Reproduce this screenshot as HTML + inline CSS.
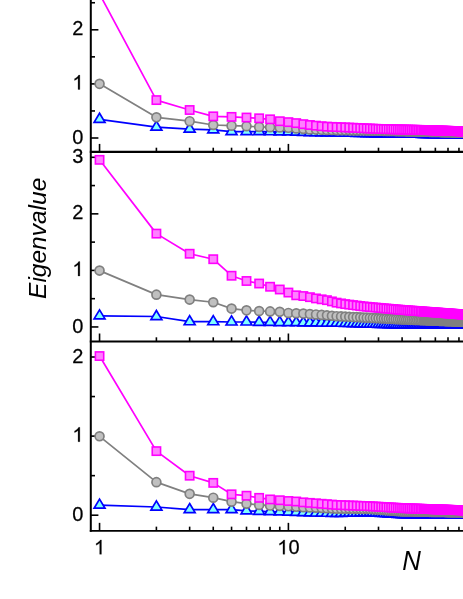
<!DOCTYPE html>
<html><head><meta charset="utf-8"><title>Eigenvalue vs N</title>
<style>
html,body{margin:0;padding:0;background:#fff;}
body{width:463px;height:599px;overflow:hidden;font-family:"Liberation Sans",sans-serif;}
svg{display:block;will-change:transform;}
</style></head><body>
<svg width="463" height="599" viewBox="0 0 463 599">
<rect width="463" height="599" fill="#fff"/>
<g stroke="#000" stroke-width="2.0" fill="none" stroke-linecap="butt">
<line x1="90.8" y1="-5" x2="90.8" y2="531.85"/>
<line x1="89.8" y1="151.9" x2="468" y2="151.9" stroke-width="2.2"/>
<line x1="89.8" y1="341.5" x2="468" y2="341.5" stroke-width="2.2"/>
<line x1="89.8" y1="530.85" x2="468" y2="530.85" stroke-width="1.9"/>
</g>
<g stroke="#000" stroke-width="1.6" fill="none">
<line x1="90.8" y1="138.00" x2="98.39999999999999" y2="138.00"/>
<line x1="90.8" y1="83.90" x2="98.39999999999999" y2="83.90"/>
<line x1="90.8" y1="29.80" x2="98.39999999999999" y2="29.80"/>
<line x1="90.8" y1="-24.30" x2="98.39999999999999" y2="-24.30"/>
<line x1="90.8" y1="110.95" x2="95.0" y2="110.95"/>
<line x1="90.8" y1="56.85" x2="95.0" y2="56.85"/>
<line x1="90.8" y1="2.75" x2="95.0" y2="2.75"/>
<line x1="99.55" y1="151.9" x2="99.55" y2="143.90"/>
<line x1="156.40" y1="151.9" x2="156.40" y2="147.70"/>
<line x1="189.65" y1="151.9" x2="189.65" y2="147.70"/>
<line x1="213.25" y1="151.9" x2="213.25" y2="147.70"/>
<line x1="231.55" y1="151.9" x2="231.55" y2="147.70"/>
<line x1="246.50" y1="151.9" x2="246.50" y2="147.70"/>
<line x1="259.15" y1="151.9" x2="259.15" y2="147.70"/>
<line x1="270.10" y1="151.9" x2="270.10" y2="147.70"/>
<line x1="279.76" y1="151.9" x2="279.76" y2="147.70"/>
<line x1="288.40" y1="151.9" x2="288.40" y2="143.90"/>
<line x1="345.25" y1="151.9" x2="345.25" y2="147.70"/>
<line x1="378.50" y1="151.9" x2="378.50" y2="147.70"/>
<line x1="402.10" y1="151.9" x2="402.10" y2="147.70"/>
<line x1="420.40" y1="151.9" x2="420.40" y2="147.70"/>
<line x1="435.35" y1="151.9" x2="435.35" y2="147.70"/>
<line x1="448.00" y1="151.9" x2="448.00" y2="147.70"/>
<line x1="458.95" y1="151.9" x2="458.95" y2="147.70"/>
<line x1="90.8" y1="326.95" x2="98.39999999999999" y2="326.95"/>
<line x1="90.8" y1="270.40" x2="98.39999999999999" y2="270.40"/>
<line x1="90.8" y1="213.85" x2="98.39999999999999" y2="213.85"/>
<line x1="90.8" y1="157.30" x2="98.39999999999999" y2="157.30"/>
<line x1="90.8" y1="298.68" x2="95.0" y2="298.68"/>
<line x1="90.8" y1="242.12" x2="95.0" y2="242.12"/>
<line x1="90.8" y1="185.57" x2="95.0" y2="185.57"/>
<line x1="99.55" y1="341.5" x2="99.55" y2="333.50"/>
<line x1="156.40" y1="341.5" x2="156.40" y2="337.30"/>
<line x1="189.65" y1="341.5" x2="189.65" y2="337.30"/>
<line x1="213.25" y1="341.5" x2="213.25" y2="337.30"/>
<line x1="231.55" y1="341.5" x2="231.55" y2="337.30"/>
<line x1="246.50" y1="341.5" x2="246.50" y2="337.30"/>
<line x1="259.15" y1="341.5" x2="259.15" y2="337.30"/>
<line x1="270.10" y1="341.5" x2="270.10" y2="337.30"/>
<line x1="279.76" y1="341.5" x2="279.76" y2="337.30"/>
<line x1="288.40" y1="341.5" x2="288.40" y2="333.50"/>
<line x1="345.25" y1="341.5" x2="345.25" y2="337.30"/>
<line x1="378.50" y1="341.5" x2="378.50" y2="337.30"/>
<line x1="402.10" y1="341.5" x2="402.10" y2="337.30"/>
<line x1="420.40" y1="341.5" x2="420.40" y2="337.30"/>
<line x1="435.35" y1="341.5" x2="435.35" y2="337.30"/>
<line x1="448.00" y1="341.5" x2="448.00" y2="337.30"/>
<line x1="458.95" y1="341.5" x2="458.95" y2="337.30"/>
<line x1="90.8" y1="515.20" x2="98.39999999999999" y2="515.20"/>
<line x1="90.8" y1="436.10" x2="98.39999999999999" y2="436.10"/>
<line x1="90.8" y1="357.00" x2="98.39999999999999" y2="357.00"/>
<line x1="90.8" y1="475.65" x2="95.0" y2="475.65"/>
<line x1="90.8" y1="396.55" x2="95.0" y2="396.55"/>
<line x1="99.55" y1="530.85" x2="99.55" y2="522.85"/>
<line x1="156.40" y1="530.85" x2="156.40" y2="526.65"/>
<line x1="189.65" y1="530.85" x2="189.65" y2="526.65"/>
<line x1="213.25" y1="530.85" x2="213.25" y2="526.65"/>
<line x1="231.55" y1="530.85" x2="231.55" y2="526.65"/>
<line x1="246.50" y1="530.85" x2="246.50" y2="526.65"/>
<line x1="259.15" y1="530.85" x2="259.15" y2="526.65"/>
<line x1="270.10" y1="530.85" x2="270.10" y2="526.65"/>
<line x1="279.76" y1="530.85" x2="279.76" y2="526.65"/>
<line x1="288.40" y1="530.85" x2="288.40" y2="522.85"/>
<line x1="345.25" y1="530.85" x2="345.25" y2="526.65"/>
<line x1="378.50" y1="530.85" x2="378.50" y2="526.65"/>
<line x1="402.10" y1="530.85" x2="402.10" y2="526.65"/>
<line x1="420.40" y1="530.85" x2="420.40" y2="526.65"/>
<line x1="435.35" y1="530.85" x2="435.35" y2="526.65"/>
<line x1="448.00" y1="530.85" x2="448.00" y2="526.65"/>
<line x1="458.95" y1="530.85" x2="458.95" y2="526.65"/>
</g>
<polyline fill="none" stroke="#0000ff" stroke-width="1.7" stroke-linejoin="round" points="99.55,119.32 156.40,127.17 189.65,129.07 213.25,129.82 231.55,131.56 246.50,131.61 259.15,131.61 270.10,131.71 279.76,131.80 288.40,131.88 296.22,132.16 303.35,132.41 309.92,132.64 316.00,132.70 321.65,132.77 326.95,132.82 331.92,132.88 336.61,132.93 341.04,132.97 345.25,133.02 349.25,133.12 353.07,133.21 356.71,133.30 360.20,133.38 363.55,133.47 366.77,133.54 369.86,133.62 372.85,133.69 375.72,133.76 378.50,133.83 381.19,133.86 383.80,133.88 386.32,133.91 388.77,133.93 391.15,133.95 393.46,133.97 395.70,134.00 397.89,134.02 400.02,134.04 402.10,134.06 404.12,134.08 406.10,134.10 408.03,134.11 409.92,134.13 411.76,134.15 413.56,134.17 415.33,134.18 417.05,134.20 418.74,134.22 420.40,134.23 422.02,134.25 423.62,134.26 425.18,134.30 426.71,134.33 428.22,134.36 429.70,134.39 431.15,134.42 432.57,134.45 433.98,134.48 435.35,134.51 436.71,134.53 438.04,134.56 439.36,134.59 440.65,134.62 441.92,134.64 443.17,134.67 444.40,134.69 445.62,134.72 446.82,134.74 448.00,134.77 449.16,134.79 450.31,134.81 451.44,134.84 452.55,134.86 453.66,134.88 454.74,134.91 455.81,134.93 456.87,134.95 457.92,134.97 458.95,134.99 459.97,135.01 460.97,135.04 461.97,135.06 462.95,135.08 463.92,135.09 464.88,135.10 465.83,135.11 466.77,135.12 467.69,135.13 468.61,135.14 469.51,135.15 470.41,135.16"/>
<g fill="#80ffff" stroke="#0000ff" stroke-width="1.7"><path d="M99.55,113.25L105.00,122.35L94.10,122.35Z"/><path d="M156.40,121.10L161.85,130.20L150.95,130.20Z"/><path d="M189.65,123.00L195.10,132.10L184.20,132.10Z"/><path d="M213.25,123.76L218.70,132.86L207.80,132.86Z"/><path d="M231.55,125.49L237.00,134.59L226.10,134.59Z"/><path d="M246.50,125.54L251.95,134.64L241.05,134.64Z"/><path d="M259.15,125.54L264.60,134.64L253.70,134.64Z"/><path d="M270.10,125.64L275.55,134.74L264.65,134.74Z"/><path d="M279.76,125.73L285.21,134.83L274.31,134.83Z"/><path d="M288.40,125.81L293.85,134.91L282.95,134.91Z"/><path d="M296.22,126.09L301.67,135.19L290.77,135.19Z"/><path d="M303.35,126.34L308.80,135.44L297.90,135.44Z"/><path d="M309.92,126.57L315.37,135.67L304.47,135.67Z"/><path d="M316.00,126.64L321.45,135.74L310.55,135.74Z"/><path d="M321.65,126.70L327.10,135.80L316.20,135.80Z"/><path d="M326.95,126.76L332.40,135.86L321.50,135.86Z"/><path d="M331.92,126.81L337.37,135.91L326.47,135.91Z"/><path d="M336.61,126.86L342.06,135.96L331.16,135.96Z"/><path d="M341.04,126.91L346.49,136.01L335.59,136.01Z"/><path d="M345.25,126.95L350.70,136.05L339.80,136.05Z"/><path d="M349.25,127.05L354.70,136.15L343.80,136.15Z"/><path d="M353.07,127.14L358.52,136.24L347.62,136.24Z"/><path d="M356.71,127.23L362.16,136.33L351.26,136.33Z"/><path d="M360.20,127.32L365.65,136.42L354.75,136.42Z"/><path d="M363.55,127.40L369.00,136.50L358.10,136.50Z"/><path d="M366.77,127.48L372.22,136.58L361.32,136.58Z"/><path d="M369.86,127.55L375.31,136.65L364.41,136.65Z"/><path d="M372.85,127.63L378.30,136.73L367.40,136.73Z"/><path d="M375.72,127.70L381.17,136.80L370.27,136.80Z"/><path d="M378.50,127.76L383.95,136.86L373.05,136.86Z"/><path d="M381.19,127.79L386.64,136.89L375.74,136.89Z"/><path d="M383.80,127.81L389.25,136.91L378.35,136.91Z"/><path d="M386.32,127.84L391.77,136.94L380.87,136.94Z"/><path d="M388.77,127.86L394.22,136.96L383.32,136.96Z"/><path d="M391.15,127.89L396.60,136.99L385.70,136.99Z"/><path d="M393.46,127.91L398.91,137.01L388.01,137.01Z"/><path d="M395.70,127.93L401.15,137.03L390.25,137.03Z"/><path d="M397.89,127.95L403.34,137.05L392.44,137.05Z"/><path d="M400.02,127.97L405.47,137.07L394.57,137.07Z"/><path d="M402.10,127.99L407.55,137.09L396.65,137.09Z"/><path d="M404.12,128.01L409.57,137.11L398.67,137.11Z"/><path d="M406.10,128.03L411.55,137.13L400.65,137.13Z"/><path d="M408.03,128.05L413.48,137.15L402.58,137.15Z"/><path d="M409.92,128.07L415.37,137.17L404.47,137.17Z"/><path d="M411.76,128.08L417.21,137.18L406.31,137.18Z"/><path d="M413.56,128.10L419.01,137.20L408.11,137.20Z"/><path d="M415.33,128.12L420.78,137.22L409.88,137.22Z"/><path d="M417.05,128.13L422.50,137.23L411.60,137.23Z"/><path d="M418.74,128.15L424.19,137.25L413.29,137.25Z"/><path d="M420.40,128.17L425.85,137.27L414.95,137.27Z"/><path d="M422.02,128.18L427.47,137.28L416.57,137.28Z"/><path d="M423.62,128.20L429.07,137.30L418.17,137.30Z" fill="#0000ff"/><path d="M425.18,128.23L430.63,137.33L419.73,137.33Z" fill="#0000ff"/><path d="M426.71,128.26L432.16,137.36L421.26,137.36Z" fill="#0000ff"/><path d="M428.22,128.29L433.67,137.39L422.77,137.39Z" fill="#0000ff"/><path d="M429.70,128.32L435.15,137.42L424.25,137.42Z" fill="#0000ff"/><path d="M431.15,128.35L436.60,137.45L425.70,137.45Z" fill="#0000ff"/><path d="M432.57,128.38L438.02,137.48L427.12,137.48Z" fill="#0000ff"/><path d="M433.98,128.41L439.43,137.51L428.53,137.51Z" fill="#0000ff"/><path d="M435.35,128.44L440.80,137.54L429.90,137.54Z" fill="#0000ff"/><path d="M436.71,128.47L442.16,137.57L431.26,137.57Z" fill="#0000ff"/><path d="M438.04,128.49L443.49,137.59L432.59,137.59Z" fill="#0000ff"/><path d="M439.36,128.52L444.81,137.62L433.91,137.62Z" fill="#0000ff"/><path d="M440.65,128.55L446.10,137.65L435.20,137.65Z" fill="#0000ff"/><path d="M441.92,128.57L447.37,137.67L436.47,137.67Z" fill="#0000ff"/><path d="M443.17,128.60L448.62,137.70L437.72,137.70Z" fill="#0000ff"/><path d="M444.40,128.63L449.85,137.73L438.95,137.73Z" fill="#0000ff"/><path d="M445.62,128.65L451.07,137.75L440.17,137.75Z" fill="#0000ff"/><path d="M446.82,128.68L452.27,137.78L441.37,137.78Z" fill="#0000ff"/><path d="M448.00,128.70L453.45,137.80L442.55,137.80Z" fill="#0000ff"/><path d="M449.16,128.72L454.61,137.82L443.71,137.82Z" fill="#0000ff"/><path d="M450.31,128.75L455.76,137.85L444.86,137.85Z" fill="#0000ff"/><path d="M451.44,128.77L456.89,137.87L445.99,137.87Z" fill="#0000ff"/><path d="M452.55,128.79L458.00,137.89L447.10,137.89Z" fill="#0000ff"/><path d="M453.66,128.82L459.11,137.92L448.21,137.92Z" fill="#0000ff"/><path d="M454.74,128.84L460.19,137.94L449.29,137.94Z" fill="#0000ff"/><path d="M455.81,128.86L461.26,137.96L450.36,137.96Z" fill="#0000ff"/><path d="M456.87,128.88L462.32,137.98L451.42,137.98Z" fill="#0000ff"/><path d="M457.92,128.91L463.37,138.01L452.47,138.01Z" fill="#0000ff"/><path d="M458.95,128.93L464.40,138.03L453.50,138.03Z" fill="#0000ff"/><path d="M459.97,128.95L465.42,138.05L454.52,138.05Z" fill="#0000ff"/><path d="M460.97,128.97L466.42,138.07L455.52,138.07Z" fill="#0000ff"/><path d="M461.97,128.99L467.42,138.09L456.52,138.09Z" fill="#0000ff"/><path d="M462.95,129.01L468.40,138.11L457.50,138.11Z" fill="#0000ff"/><path d="M463.92,129.02L469.37,138.12L458.47,138.12Z" fill="#0000ff"/><path d="M464.88,129.03L470.33,138.13L459.43,138.13Z" fill="#0000ff"/><path d="M465.83,129.04L471.28,138.14L460.38,138.14Z" fill="#0000ff"/><path d="M466.77,129.05L472.22,138.15L461.32,138.15Z" fill="#0000ff"/><path d="M467.69,129.06L473.14,138.16L462.24,138.16Z" fill="#0000ff"/><path d="M468.61,129.07L474.06,138.17L463.16,138.17Z" fill="#0000ff"/><path d="M469.51,129.08L474.96,138.18L464.06,138.18Z" fill="#0000ff"/><path d="M470.41,129.09L475.86,138.19L464.96,138.19Z" fill="#0000ff"/></g>
<polyline fill="none" stroke="#808080" stroke-width="1.7" stroke-linejoin="round" points="99.55,83.85 156.40,117.31 189.65,121.21 213.25,125.00 231.55,125.65 246.50,126.14 259.15,126.95 270.10,127.17 279.76,127.44 288.40,127.82 296.22,128.39 303.35,128.90 309.92,129.39 316.00,129.60 321.65,129.80 326.95,129.99 331.92,130.07 336.61,130.15 341.04,130.23 345.25,130.30 349.25,130.36 353.07,130.41 356.71,130.46 360.20,130.51 363.55,130.55 366.77,130.59 369.86,130.63 372.85,130.67 375.72,130.71 378.50,130.74 381.19,130.80 383.80,130.86 386.32,130.91 388.77,130.97 391.15,131.02 393.46,131.07 395.70,131.12 397.89,131.16 400.02,131.21 402.10,131.25 404.12,131.30 406.10,131.34 408.03,131.38 409.92,131.42 411.76,131.46 413.56,131.50 415.33,131.54 417.05,131.58 418.74,131.61 420.40,131.65 422.02,131.68 423.62,131.72 425.18,131.75 426.71,131.79 428.22,131.82 429.70,131.85 431.15,131.88 432.57,131.92 433.98,131.95 435.35,131.98 436.71,132.01 438.04,132.04 439.36,132.07 440.65,132.09 441.92,132.12 443.17,132.15 444.40,132.18 445.62,132.20 446.82,132.23 448.00,132.26 449.16,132.28 450.31,132.31 451.44,132.33 452.55,132.36 453.66,132.38 454.74,132.40 455.81,132.43 456.87,132.45 457.92,132.47 458.95,132.50 459.97,132.52 460.97,132.54 461.97,132.56 462.95,132.59 463.92,132.60 464.88,132.61 465.83,132.63 466.77,132.64 467.69,132.66 468.61,132.67 469.51,132.68 470.41,132.70"/>
<g fill="#c0c0c0" stroke="#808080" stroke-width="1.7"><circle cx="99.55" cy="83.85" r="4.45"/><circle cx="156.40" cy="117.31" r="4.45"/><circle cx="189.65" cy="121.21" r="4.45"/><circle cx="213.25" cy="125.00" r="4.45"/><circle cx="231.55" cy="125.65" r="4.45"/><circle cx="246.50" cy="126.14" r="4.45"/><circle cx="259.15" cy="126.95" r="4.45"/><circle cx="270.10" cy="127.17" r="4.45"/><circle cx="279.76" cy="127.44" r="4.45"/><circle cx="288.40" cy="127.82" r="4.45"/><circle cx="296.22" cy="128.39" r="4.45"/><circle cx="303.35" cy="128.90" r="4.45"/><circle cx="309.92" cy="129.39" r="4.45"/><circle cx="316.00" cy="129.60" r="4.45"/><circle cx="321.65" cy="129.80" r="4.45"/><circle cx="326.95" cy="129.99" r="4.45"/><circle cx="331.92" cy="130.07" r="4.45"/><circle cx="336.61" cy="130.15" r="4.45"/><circle cx="341.04" cy="130.23" r="4.45"/><circle cx="345.25" cy="130.30" r="4.45"/><circle cx="349.25" cy="130.36" r="4.45"/><circle cx="353.07" cy="130.41" r="4.45"/><circle cx="356.71" cy="130.46" r="4.45"/><circle cx="360.20" cy="130.51" r="4.45"/><circle cx="363.55" cy="130.55" r="4.45"/><circle cx="366.77" cy="130.59" r="4.45"/><circle cx="369.86" cy="130.63" r="4.45"/><circle cx="372.85" cy="130.67" r="4.45"/><circle cx="375.72" cy="130.71" r="4.45"/><circle cx="378.50" cy="130.74" r="4.45"/><circle cx="381.19" cy="130.80" r="4.45"/><circle cx="383.80" cy="130.86" r="4.45"/><circle cx="386.32" cy="130.91" r="4.45"/><circle cx="388.77" cy="130.97" r="4.45"/><circle cx="391.15" cy="131.02" r="4.45"/><circle cx="393.46" cy="131.07" r="4.45"/><circle cx="395.70" cy="131.12" r="4.45"/><circle cx="397.89" cy="131.16" r="4.45"/><circle cx="400.02" cy="131.21" r="4.45"/><circle cx="402.10" cy="131.25" r="4.45"/><circle cx="404.12" cy="131.30" r="4.45"/><circle cx="406.10" cy="131.34" r="4.45"/><circle cx="408.03" cy="131.38" r="4.45"/><circle cx="409.92" cy="131.42" r="4.45"/><circle cx="411.76" cy="131.46" r="4.45"/><circle cx="413.56" cy="131.50" r="4.45"/><circle cx="415.33" cy="131.54" r="4.45"/><circle cx="417.05" cy="131.58" r="4.45"/><circle cx="418.74" cy="131.61" r="4.45"/><circle cx="420.40" cy="131.65" r="4.45"/><circle cx="422.02" cy="131.68" r="4.45"/><circle cx="423.62" cy="131.72" r="4.45" fill="#808080"/><circle cx="425.18" cy="131.75" r="4.45" fill="#808080"/><circle cx="426.71" cy="131.79" r="4.45" fill="#808080"/><circle cx="428.22" cy="131.82" r="4.45" fill="#808080"/><circle cx="429.70" cy="131.85" r="4.45" fill="#808080"/><circle cx="431.15" cy="131.88" r="4.45" fill="#808080"/><circle cx="432.57" cy="131.92" r="4.45" fill="#808080"/><circle cx="433.98" cy="131.95" r="4.45" fill="#808080"/><circle cx="435.35" cy="131.98" r="4.45" fill="#808080"/><circle cx="436.71" cy="132.01" r="4.45" fill="#808080"/><circle cx="438.04" cy="132.04" r="4.45" fill="#808080"/><circle cx="439.36" cy="132.07" r="4.45" fill="#808080"/><circle cx="440.65" cy="132.09" r="4.45" fill="#808080"/><circle cx="441.92" cy="132.12" r="4.45" fill="#808080"/><circle cx="443.17" cy="132.15" r="4.45" fill="#808080"/><circle cx="444.40" cy="132.18" r="4.45" fill="#808080"/><circle cx="445.62" cy="132.20" r="4.45" fill="#808080"/><circle cx="446.82" cy="132.23" r="4.45" fill="#808080"/><circle cx="448.00" cy="132.26" r="4.45" fill="#808080"/><circle cx="449.16" cy="132.28" r="4.45" fill="#808080"/><circle cx="450.31" cy="132.31" r="4.45" fill="#808080"/><circle cx="451.44" cy="132.33" r="4.45" fill="#808080"/><circle cx="452.55" cy="132.36" r="4.45" fill="#808080"/><circle cx="453.66" cy="132.38" r="4.45" fill="#808080"/><circle cx="454.74" cy="132.40" r="4.45" fill="#808080"/><circle cx="455.81" cy="132.43" r="4.45" fill="#808080"/><circle cx="456.87" cy="132.45" r="4.45" fill="#808080"/><circle cx="457.92" cy="132.47" r="4.45" fill="#808080"/><circle cx="458.95" cy="132.50" r="4.45" fill="#808080"/><circle cx="459.97" cy="132.52" r="4.45" fill="#808080"/><circle cx="460.97" cy="132.54" r="4.45" fill="#808080"/><circle cx="461.97" cy="132.56" r="4.45" fill="#808080"/><circle cx="462.95" cy="132.59" r="4.45" fill="#808080"/><circle cx="463.92" cy="132.60" r="4.45" fill="#808080"/><circle cx="464.88" cy="132.61" r="4.45" fill="#808080"/><circle cx="465.83" cy="132.63" r="4.45" fill="#808080"/><circle cx="466.77" cy="132.64" r="4.45" fill="#808080"/><circle cx="467.69" cy="132.66" r="4.45" fill="#808080"/><circle cx="468.61" cy="132.67" r="4.45" fill="#808080"/><circle cx="469.51" cy="132.68" r="4.45" fill="#808080"/><circle cx="470.41" cy="132.70" r="4.45" fill="#808080"/></g>
<polyline fill="none" stroke="#ff00ff" stroke-width="1.7" stroke-linejoin="round" points="99.55,-6.04 156.40,100.09 189.65,110.00 213.25,116.34 231.55,116.88 246.50,117.53 259.15,118.29 270.10,119.32 279.76,121.21 288.40,122.13 296.22,123.11 303.35,124.14 309.92,125.00 316.00,125.65 321.65,126.20 326.95,126.63 331.92,126.85 336.61,127.06 341.04,127.23 345.25,127.39 349.25,127.57 353.07,127.74 356.71,127.91 360.20,128.07 363.55,128.22 366.77,128.37 369.86,128.51 372.85,128.64 375.72,128.78 378.50,128.90 381.19,128.97 383.80,129.04 386.32,129.10 388.77,129.16 391.15,129.22 393.46,129.28 395.70,129.34 397.89,129.39 400.02,129.45 402.10,129.50 404.12,129.54 406.10,129.59 408.03,129.63 409.92,129.68 411.76,129.72 413.56,129.76 415.33,129.80 417.05,129.84 418.74,129.88 420.40,129.91 422.02,129.95 423.62,129.99 425.18,130.04 426.71,130.09 428.22,130.14 429.70,130.19 431.15,130.24 432.57,130.29 433.98,130.34 435.35,130.39 436.71,130.44 438.04,130.48 439.36,130.53 440.65,130.57 441.92,130.62 443.17,130.66 444.40,130.70 445.62,130.74 446.82,130.78 448.00,130.82 449.16,130.86 450.31,130.90 451.44,130.94 452.55,130.98 453.66,131.02 454.74,131.06 455.81,131.09 456.87,131.13 457.92,131.17 458.95,131.20 459.97,131.24 460.97,131.27 461.97,131.31 462.95,131.34 463.92,131.37 464.88,131.40 465.83,131.43 466.77,131.46 467.69,131.48 468.61,131.51 469.51,131.54 470.41,131.57"/>
<g fill="#ff80ff" stroke="#ff00ff" stroke-width="1.6"><rect x="95.40" y="-10.19" width="8.3" height="8.30"/><rect x="152.25" y="95.94" width="8.3" height="8.30"/><rect x="185.50" y="105.85" width="8.3" height="8.30"/><rect x="209.10" y="112.19" width="8.3" height="8.30"/><rect x="227.40" y="112.73" width="8.3" height="8.30"/><rect x="242.35" y="113.38" width="8.3" height="8.30"/><rect x="255.00" y="114.14" width="8.3" height="8.30"/><rect x="265.95" y="115.17" width="8.3" height="8.30"/><rect x="275.61" y="117.06" width="8.3" height="8.30"/><rect x="284.25" y="117.98" width="8.3" height="8.30"/><rect x="292.07" y="118.96" width="8.3" height="8.30"/><rect x="299.20" y="119.99" width="8.3" height="8.30"/><rect x="305.77" y="120.85" width="8.3" height="8.30"/><rect x="311.85" y="121.50" width="8.3" height="8.30"/><rect x="317.50" y="122.05" width="8.3" height="8.30"/><rect x="322.80" y="122.48" width="8.3" height="8.30"/><rect x="327.77" y="122.70" width="8.3" height="8.30"/><rect x="332.46" y="122.91" width="8.3" height="8.30"/><rect x="336.89" y="123.08" width="8.3" height="8.30"/><rect x="341.10" y="123.24" width="8.3" height="8.30"/><rect x="345.10" y="123.42" width="8.3" height="8.30"/><rect x="348.92" y="123.59" width="8.3" height="8.30"/><rect x="352.56" y="123.76" width="8.3" height="8.30"/><rect x="356.05" y="123.92" width="8.3" height="8.30"/><rect x="359.40" y="124.07" width="8.3" height="8.30"/><rect x="362.62" y="124.22" width="8.3" height="8.30"/><rect x="365.71" y="124.36" width="8.3" height="8.30"/><rect x="368.70" y="124.49" width="8.3" height="8.30"/><rect x="371.57" y="124.63" width="8.3" height="8.30"/><rect x="374.35" y="124.75" width="8.3" height="8.30"/><rect x="377.04" y="124.82" width="8.3" height="8.30"/><rect x="379.65" y="124.89" width="8.3" height="8.30"/><rect x="382.17" y="124.95" width="8.3" height="8.30"/><rect x="384.62" y="125.01" width="8.3" height="8.30"/><rect x="387.00" y="125.07" width="8.3" height="8.30"/><rect x="389.31" y="125.13" width="8.3" height="8.30"/><rect x="391.55" y="125.19" width="8.3" height="8.30"/><rect x="393.74" y="125.24" width="8.3" height="8.30"/><rect x="395.87" y="125.30" width="8.3" height="8.30"/><rect x="397.95" y="125.35" width="8.3" height="8.30"/><rect x="399.97" y="125.39" width="8.3" height="8.30"/><rect x="401.95" y="125.44" width="8.3" height="8.30"/><rect x="403.88" y="125.48" width="8.3" height="8.30"/><rect x="405.77" y="125.53" width="8.3" height="8.30"/><rect x="407.61" y="125.57" width="8.3" height="8.30"/><rect x="409.41" y="125.61" width="8.3" height="8.30"/><rect x="411.18" y="125.65" width="8.3" height="8.30"/><rect x="412.90" y="125.69" width="8.3" height="8.30"/><rect x="414.59" y="125.73" width="8.3" height="8.30"/><rect x="416.25" y="125.76" width="8.3" height="8.30"/><rect x="417.87" y="125.80" width="8.3" height="8.30"/><rect x="419.47" y="125.84" width="8.3" height="8.30" fill="#ff00ff"/><rect x="421.03" y="125.89" width="8.3" height="8.30" fill="#ff00ff"/><rect x="422.56" y="125.94" width="8.3" height="8.30" fill="#ff00ff"/><rect x="424.07" y="125.99" width="8.3" height="8.30" fill="#ff00ff"/><rect x="425.55" y="126.04" width="8.3" height="8.30" fill="#ff00ff"/><rect x="427.00" y="126.09" width="8.3" height="8.30" fill="#ff00ff"/><rect x="428.42" y="126.14" width="8.3" height="8.30" fill="#ff00ff"/><rect x="429.83" y="126.19" width="8.3" height="8.30" fill="#ff00ff"/><rect x="431.20" y="126.24" width="8.3" height="8.30" fill="#ff00ff"/><rect x="432.56" y="126.29" width="8.3" height="8.30" fill="#ff00ff"/><rect x="433.89" y="126.33" width="8.3" height="8.30" fill="#ff00ff"/><rect x="435.21" y="126.38" width="8.3" height="8.30" fill="#ff00ff"/><rect x="436.50" y="126.42" width="8.3" height="8.30" fill="#ff00ff"/><rect x="437.77" y="126.47" width="8.3" height="8.30" fill="#ff00ff"/><rect x="439.02" y="126.51" width="8.3" height="8.30" fill="#ff00ff"/><rect x="440.25" y="126.55" width="8.3" height="8.30" fill="#ff00ff"/><rect x="441.47" y="126.59" width="8.3" height="8.30" fill="#ff00ff"/><rect x="442.67" y="126.63" width="8.3" height="8.30" fill="#ff00ff"/><rect x="443.85" y="126.67" width="8.3" height="8.30" fill="#ff00ff"/><rect x="445.01" y="126.71" width="8.3" height="8.30" fill="#ff00ff"/><rect x="446.16" y="126.75" width="8.3" height="8.30" fill="#ff00ff"/><rect x="447.29" y="126.79" width="8.3" height="8.30" fill="#ff00ff"/><rect x="448.40" y="126.83" width="8.3" height="8.30" fill="#ff00ff"/><rect x="449.51" y="126.87" width="8.3" height="8.30" fill="#ff00ff"/><rect x="450.59" y="126.91" width="8.3" height="8.30" fill="#ff00ff"/><rect x="451.66" y="126.94" width="8.3" height="8.30" fill="#ff00ff"/><rect x="452.72" y="126.98" width="8.3" height="8.30" fill="#ff00ff"/><rect x="453.77" y="127.02" width="8.3" height="8.30" fill="#ff00ff"/><rect x="454.80" y="127.05" width="8.3" height="8.30" fill="#ff00ff"/><rect x="455.82" y="127.09" width="8.3" height="8.30" fill="#ff00ff"/><rect x="456.82" y="127.12" width="8.3" height="8.30" fill="#ff00ff"/><rect x="457.82" y="127.16" width="8.3" height="8.30" fill="#ff00ff"/><rect x="458.80" y="127.19" width="8.3" height="8.30" fill="#ff00ff"/><rect x="459.77" y="127.22" width="8.3" height="8.30" fill="#ff00ff"/><rect x="460.73" y="127.25" width="8.3" height="8.30" fill="#ff00ff"/><rect x="461.68" y="127.28" width="8.3" height="8.30" fill="#ff00ff"/><rect x="462.62" y="127.31" width="8.3" height="8.30" fill="#ff00ff"/><rect x="463.54" y="127.33" width="8.3" height="8.30" fill="#ff00ff"/><rect x="464.46" y="127.36" width="8.3" height="8.30" fill="#ff00ff"/><rect x="465.36" y="127.39" width="8.3" height="8.30" fill="#ff00ff"/><rect x="466.26" y="127.42" width="8.3" height="8.30" fill="#ff00ff"/></g>
<polyline fill="none" stroke="#0000ff" stroke-width="1.7" stroke-linejoin="round" points="99.55,315.90 156.40,316.52 189.65,321.71 213.25,321.71 231.55,321.99 246.50,321.99 259.15,322.27 270.10,322.39 279.76,322.50 288.40,322.59 296.22,322.67 303.35,322.75 309.92,322.82 316.00,322.89 321.65,322.95 326.95,323.01 331.92,323.06 336.61,323.12 341.04,323.24 345.25,323.35 349.25,323.46 353.07,323.57 356.71,323.67 360.20,323.77 363.55,323.86 366.77,323.95 369.86,324.03 372.85,324.11 375.72,324.19 378.50,324.27 381.19,324.34 383.80,324.42 386.32,324.49 388.77,324.55 391.15,324.62 393.46,324.68 395.70,324.74 397.89,324.80 400.02,324.86 402.10,324.92 404.12,324.93 406.10,324.93 408.03,324.94 409.92,324.94 411.76,324.95 413.56,324.95 415.33,324.96 417.05,324.96 418.74,324.97 420.40,324.97 422.02,324.98 423.62,324.98 425.18,324.98 426.71,324.99 428.22,324.99 429.70,325.00 431.15,325.00 432.57,325.01 433.98,325.01 435.35,325.01 436.71,325.02 438.04,325.02 439.36,325.02 440.65,325.03 441.92,325.03 443.17,325.04 444.40,325.04 445.62,325.04 446.82,325.05 448.00,325.05 449.16,325.05 450.31,325.05 451.44,325.06 452.55,325.06 453.66,325.06 454.74,325.07 455.81,325.07 456.87,325.07 457.92,325.08 458.95,325.08 459.97,325.08 460.97,325.08 461.97,325.09 462.95,325.09 463.92,325.09 464.88,325.10 465.83,325.10 466.77,325.11 467.69,325.11 468.61,325.11 469.51,325.12 470.41,325.12"/>
<g fill="#80ffff" stroke="#0000ff" stroke-width="1.7"><path d="M99.55,309.83L105.00,318.93L94.10,318.93Z"/><path d="M156.40,310.45L161.85,319.55L150.95,319.55Z"/><path d="M189.65,315.64L195.10,324.74L184.20,324.74Z"/><path d="M213.25,315.64L218.70,324.74L207.80,324.74Z"/><path d="M231.55,315.92L237.00,325.02L226.10,325.02Z"/><path d="M246.50,315.92L251.95,325.02L241.05,325.02Z"/><path d="M259.15,316.20L264.60,325.30L253.70,325.30Z"/><path d="M270.10,316.32L275.55,325.42L264.65,325.42Z"/><path d="M279.76,316.43L285.21,325.53L274.31,325.53Z"/><path d="M288.40,316.52L293.85,325.62L282.95,325.62Z"/><path d="M296.22,316.61L301.67,325.71L290.77,325.71Z"/><path d="M303.35,316.69L308.80,325.79L297.90,325.79Z"/><path d="M309.92,316.76L315.37,325.86L304.47,325.86Z"/><path d="M316.00,316.82L321.45,325.92L310.55,325.92Z"/><path d="M321.65,316.89L327.10,325.99L316.20,325.99Z"/><path d="M326.95,316.94L332.40,326.04L321.50,326.04Z"/><path d="M331.92,317.00L337.37,326.10L326.47,326.10Z"/><path d="M336.61,317.05L342.06,326.15L331.16,326.15Z"/><path d="M341.04,317.17L346.49,326.27L335.59,326.27Z"/><path d="M345.25,317.29L350.70,326.39L339.80,326.39Z"/><path d="M349.25,317.40L354.70,326.50L343.80,326.50Z"/><path d="M353.07,317.50L358.52,326.60L347.62,326.60Z"/><path d="M356.71,317.60L362.16,326.70L351.26,326.70Z"/><path d="M360.20,317.70L365.65,326.80L354.75,326.80Z"/><path d="M363.55,317.79L369.00,326.89L358.10,326.89Z"/><path d="M366.77,317.88L372.22,326.98L361.32,326.98Z"/><path d="M369.86,317.97L375.31,327.07L364.41,327.07Z"/><path d="M372.85,318.05L378.30,327.15L367.40,327.15Z"/><path d="M375.72,318.13L381.17,327.23L370.27,327.23Z"/><path d="M378.50,318.20L383.95,327.30L373.05,327.30Z"/><path d="M381.19,318.28L386.64,327.38L375.74,327.38Z"/><path d="M383.80,318.35L389.25,327.45L378.35,327.45Z"/><path d="M386.32,318.42L391.77,327.52L380.87,327.52Z"/><path d="M388.77,318.49L394.22,327.59L383.32,327.59Z"/><path d="M391.15,318.55L396.60,327.65L385.70,327.65Z"/><path d="M393.46,318.62L398.91,327.72L388.01,327.72Z"/><path d="M395.70,318.68L401.15,327.78L390.25,327.78Z"/><path d="M397.89,318.74L403.34,327.84L392.44,327.84Z"/><path d="M400.02,318.80L405.47,327.90L394.57,327.90Z"/><path d="M402.10,318.85L407.55,327.95L396.65,327.95Z"/><path d="M404.12,318.86L409.57,327.96L398.67,327.96Z"/><path d="M406.10,318.87L411.55,327.97L400.65,327.97Z"/><path d="M408.03,318.87L413.48,327.97L402.58,327.97Z"/><path d="M409.92,318.88L415.37,327.98L404.47,327.98Z"/><path d="M411.76,318.88L417.21,327.98L406.31,327.98Z"/><path d="M413.56,318.89L419.01,327.99L408.11,327.99Z"/><path d="M415.33,318.89L420.78,327.99L409.88,327.99Z"/><path d="M417.05,318.90L422.50,328.00L411.60,328.00Z"/><path d="M418.74,318.90L424.19,328.00L413.29,328.00Z"/><path d="M420.40,318.91L425.85,328.01L414.95,328.01Z"/><path d="M422.02,318.91L427.47,328.01L416.57,328.01Z"/><path d="M423.62,318.91L429.07,328.01L418.17,328.01Z" fill="#0000ff"/><path d="M425.18,318.92L430.63,328.02L419.73,328.02Z" fill="#0000ff"/><path d="M426.71,318.92L432.16,328.02L421.26,328.02Z" fill="#0000ff"/><path d="M428.22,318.93L433.67,328.03L422.77,328.03Z" fill="#0000ff"/><path d="M429.70,318.93L435.15,328.03L424.25,328.03Z" fill="#0000ff"/><path d="M431.15,318.93L436.60,328.03L425.70,328.03Z" fill="#0000ff"/><path d="M432.57,318.94L438.02,328.04L427.12,328.04Z" fill="#0000ff"/><path d="M433.98,318.94L439.43,328.04L428.53,328.04Z" fill="#0000ff"/><path d="M435.35,318.95L440.80,328.05L429.90,328.05Z" fill="#0000ff"/><path d="M436.71,318.95L442.16,328.05L431.26,328.05Z" fill="#0000ff"/><path d="M438.04,318.95L443.49,328.05L432.59,328.05Z" fill="#0000ff"/><path d="M439.36,318.96L444.81,328.06L433.91,328.06Z" fill="#0000ff"/><path d="M440.65,318.96L446.10,328.06L435.20,328.06Z" fill="#0000ff"/><path d="M441.92,318.96L447.37,328.06L436.47,328.06Z" fill="#0000ff"/><path d="M443.17,318.97L448.62,328.07L437.72,328.07Z" fill="#0000ff"/><path d="M444.40,318.97L449.85,328.07L438.95,328.07Z" fill="#0000ff"/><path d="M445.62,318.98L451.07,328.08L440.17,328.08Z" fill="#0000ff"/><path d="M446.82,318.98L452.27,328.08L441.37,328.08Z" fill="#0000ff"/><path d="M448.00,318.98L453.45,328.08L442.55,328.08Z" fill="#0000ff"/><path d="M449.16,318.98L454.61,328.08L443.71,328.08Z" fill="#0000ff"/><path d="M450.31,318.99L455.76,328.09L444.86,328.09Z" fill="#0000ff"/><path d="M451.44,318.99L456.89,328.09L445.99,328.09Z" fill="#0000ff"/><path d="M452.55,318.99L458.00,328.09L447.10,328.09Z" fill="#0000ff"/><path d="M453.66,319.00L459.11,328.10L448.21,328.10Z" fill="#0000ff"/><path d="M454.74,319.00L460.19,328.10L449.29,328.10Z" fill="#0000ff"/><path d="M455.81,319.00L461.26,328.10L450.36,328.10Z" fill="#0000ff"/><path d="M456.87,319.01L462.32,328.11L451.42,328.11Z" fill="#0000ff"/><path d="M457.92,319.01L463.37,328.11L452.47,328.11Z" fill="#0000ff"/><path d="M458.95,319.01L464.40,328.11L453.50,328.11Z" fill="#0000ff"/><path d="M459.97,319.02L465.42,328.12L454.52,328.12Z" fill="#0000ff"/><path d="M460.97,319.02L466.42,328.12L455.52,328.12Z" fill="#0000ff"/><path d="M461.97,319.02L467.42,328.12L456.52,328.12Z" fill="#0000ff"/><path d="M462.95,319.02L468.40,328.12L457.50,328.12Z" fill="#0000ff"/><path d="M463.92,319.03L469.37,328.13L458.47,328.13Z" fill="#0000ff"/><path d="M464.88,319.03L470.33,328.13L459.43,328.13Z" fill="#0000ff"/><path d="M465.83,319.03L471.28,328.13L460.38,328.13Z" fill="#0000ff"/><path d="M466.77,319.04L472.22,328.14L461.32,328.14Z" fill="#0000ff"/><path d="M467.69,319.04L473.14,328.14L462.24,328.14Z" fill="#0000ff"/><path d="M468.61,319.05L474.06,328.15L463.16,328.15Z" fill="#0000ff"/><path d="M469.51,319.05L474.96,328.15L464.06,328.15Z" fill="#0000ff"/><path d="M470.41,319.05L475.86,328.15L464.96,328.15Z" fill="#0000ff"/></g>
<polyline fill="none" stroke="#808080" stroke-width="1.7" stroke-linejoin="round" points="99.55,270.61 156.40,294.63 189.65,299.60 213.25,302.25 231.55,308.62 246.50,310.37 259.15,310.99 270.10,311.38 279.76,311.84 288.40,312.96 296.22,313.26 303.35,313.53 309.92,314.01 316.00,314.46 321.65,314.88 326.95,315.34 331.92,315.77 336.61,316.18 341.04,316.40 345.25,316.60 349.25,316.80 353.07,316.99 356.71,317.17 360.20,317.34 363.55,317.50 366.77,317.66 369.86,317.81 372.85,317.96 375.72,318.10 378.50,318.24 381.19,318.37 383.80,318.50 386.32,318.62 388.77,318.74 391.15,318.86 393.46,318.97 395.70,319.08 397.89,319.19 400.02,319.29 402.10,319.39 404.12,319.47 406.10,319.55 408.03,319.62 409.92,319.70 411.76,319.77 413.56,319.84 415.33,319.91 417.05,319.98 418.74,320.04 420.40,320.11 422.02,320.17 423.62,320.23 425.18,320.29 426.71,320.35 428.22,320.41 429.70,320.47 431.15,320.52 432.57,320.58 433.98,320.63 435.35,320.69 436.71,320.74 438.04,320.79 439.36,320.84 440.65,320.89 441.92,320.94 443.17,320.99 444.40,321.04 445.62,321.09 446.82,321.13 448.00,321.18 449.16,321.23 450.31,321.27 451.44,321.31 452.55,321.36 453.66,321.40 454.74,321.44 455.81,321.48 456.87,321.53 457.92,321.57 458.95,321.61 459.97,321.65 460.97,321.69 461.97,321.72 462.95,321.76 463.92,321.79 464.88,321.82 465.83,321.84 466.77,321.87 467.69,321.89 468.61,321.92 469.51,321.94 470.41,321.97"/>
<g fill="#c0c0c0" stroke="#808080" stroke-width="1.7"><circle cx="99.55" cy="270.61" r="4.45"/><circle cx="156.40" cy="294.63" r="4.45"/><circle cx="189.65" cy="299.60" r="4.45"/><circle cx="213.25" cy="302.25" r="4.45"/><circle cx="231.55" cy="308.62" r="4.45"/><circle cx="246.50" cy="310.37" r="4.45"/><circle cx="259.15" cy="310.99" r="4.45"/><circle cx="270.10" cy="311.38" r="4.45"/><circle cx="279.76" cy="311.84" r="4.45"/><circle cx="288.40" cy="312.96" r="4.45"/><circle cx="296.22" cy="313.26" r="4.45"/><circle cx="303.35" cy="313.53" r="4.45"/><circle cx="309.92" cy="314.01" r="4.45"/><circle cx="316.00" cy="314.46" r="4.45"/><circle cx="321.65" cy="314.88" r="4.45"/><circle cx="326.95" cy="315.34" r="4.45"/><circle cx="331.92" cy="315.77" r="4.45"/><circle cx="336.61" cy="316.18" r="4.45"/><circle cx="341.04" cy="316.40" r="4.45"/><circle cx="345.25" cy="316.60" r="4.45"/><circle cx="349.25" cy="316.80" r="4.45"/><circle cx="353.07" cy="316.99" r="4.45"/><circle cx="356.71" cy="317.17" r="4.45"/><circle cx="360.20" cy="317.34" r="4.45"/><circle cx="363.55" cy="317.50" r="4.45"/><circle cx="366.77" cy="317.66" r="4.45"/><circle cx="369.86" cy="317.81" r="4.45"/><circle cx="372.85" cy="317.96" r="4.45"/><circle cx="375.72" cy="318.10" r="4.45"/><circle cx="378.50" cy="318.24" r="4.45"/><circle cx="381.19" cy="318.37" r="4.45"/><circle cx="383.80" cy="318.50" r="4.45"/><circle cx="386.32" cy="318.62" r="4.45"/><circle cx="388.77" cy="318.74" r="4.45"/><circle cx="391.15" cy="318.86" r="4.45"/><circle cx="393.46" cy="318.97" r="4.45"/><circle cx="395.70" cy="319.08" r="4.45"/><circle cx="397.89" cy="319.19" r="4.45"/><circle cx="400.02" cy="319.29" r="4.45"/><circle cx="402.10" cy="319.39" r="4.45"/><circle cx="404.12" cy="319.47" r="4.45"/><circle cx="406.10" cy="319.55" r="4.45"/><circle cx="408.03" cy="319.62" r="4.45"/><circle cx="409.92" cy="319.70" r="4.45"/><circle cx="411.76" cy="319.77" r="4.45"/><circle cx="413.56" cy="319.84" r="4.45"/><circle cx="415.33" cy="319.91" r="4.45"/><circle cx="417.05" cy="319.98" r="4.45"/><circle cx="418.74" cy="320.04" r="4.45"/><circle cx="420.40" cy="320.11" r="4.45"/><circle cx="422.02" cy="320.17" r="4.45"/><circle cx="423.62" cy="320.23" r="4.45" fill="#808080"/><circle cx="425.18" cy="320.29" r="4.45" fill="#808080"/><circle cx="426.71" cy="320.35" r="4.45" fill="#808080"/><circle cx="428.22" cy="320.41" r="4.45" fill="#808080"/><circle cx="429.70" cy="320.47" r="4.45" fill="#808080"/><circle cx="431.15" cy="320.52" r="4.45" fill="#808080"/><circle cx="432.57" cy="320.58" r="4.45" fill="#808080"/><circle cx="433.98" cy="320.63" r="4.45" fill="#808080"/><circle cx="435.35" cy="320.69" r="4.45" fill="#808080"/><circle cx="436.71" cy="320.74" r="4.45" fill="#808080"/><circle cx="438.04" cy="320.79" r="4.45" fill="#808080"/><circle cx="439.36" cy="320.84" r="4.45" fill="#808080"/><circle cx="440.65" cy="320.89" r="4.45" fill="#808080"/><circle cx="441.92" cy="320.94" r="4.45" fill="#808080"/><circle cx="443.17" cy="320.99" r="4.45" fill="#808080"/><circle cx="444.40" cy="321.04" r="4.45" fill="#808080"/><circle cx="445.62" cy="321.09" r="4.45" fill="#808080"/><circle cx="446.82" cy="321.13" r="4.45" fill="#808080"/><circle cx="448.00" cy="321.18" r="4.45" fill="#808080"/><circle cx="449.16" cy="321.23" r="4.45" fill="#808080"/><circle cx="450.31" cy="321.27" r="4.45" fill="#808080"/><circle cx="451.44" cy="321.31" r="4.45" fill="#808080"/><circle cx="452.55" cy="321.36" r="4.45" fill="#808080"/><circle cx="453.66" cy="321.40" r="4.45" fill="#808080"/><circle cx="454.74" cy="321.44" r="4.45" fill="#808080"/><circle cx="455.81" cy="321.48" r="4.45" fill="#808080"/><circle cx="456.87" cy="321.53" r="4.45" fill="#808080"/><circle cx="457.92" cy="321.57" r="4.45" fill="#808080"/><circle cx="458.95" cy="321.61" r="4.45" fill="#808080"/><circle cx="459.97" cy="321.65" r="4.45" fill="#808080"/><circle cx="460.97" cy="321.69" r="4.45" fill="#808080"/><circle cx="461.97" cy="321.72" r="4.45" fill="#808080"/><circle cx="462.95" cy="321.76" r="4.45" fill="#808080"/><circle cx="463.92" cy="321.79" r="4.45" fill="#808080"/><circle cx="464.88" cy="321.82" r="4.45" fill="#808080"/><circle cx="465.83" cy="321.84" r="4.45" fill="#808080"/><circle cx="466.77" cy="321.87" r="4.45" fill="#808080"/><circle cx="467.69" cy="321.89" r="4.45" fill="#808080"/><circle cx="468.61" cy="321.92" r="4.45" fill="#808080"/><circle cx="469.51" cy="321.94" r="4.45" fill="#808080"/><circle cx="470.41" cy="321.97" r="4.45" fill="#808080"/></g>
<polyline fill="none" stroke="#ff00ff" stroke-width="1.7" stroke-linejoin="round" points="99.55,159.84 156.40,233.61 189.65,253.74 213.25,259.21 231.55,275.74 246.50,280.99 259.15,283.52 270.10,286.74 279.76,289.50 288.40,292.55 296.22,295.31 303.35,296.04 309.92,297.17 316.00,298.41 321.65,299.32 326.95,300.16 331.92,301.40 336.61,302.64 341.04,303.40 345.25,304.11 349.25,304.61 353.07,305.10 356.71,305.56 360.20,306.00 363.55,306.42 366.77,306.72 369.86,307.02 372.85,307.30 375.72,307.57 378.50,307.83 381.19,308.07 383.80,308.30 386.32,308.52 388.77,308.74 391.15,308.95 393.46,309.15 395.70,309.35 397.89,309.55 400.02,309.73 402.10,309.92 404.12,310.07 406.10,310.22 408.03,310.36 409.92,310.51 411.76,310.64 413.56,310.78 415.33,310.91 417.05,311.04 418.74,311.17 420.40,311.29 422.02,311.41 423.62,311.53 425.18,311.65 426.71,311.77 428.22,311.88 429.70,311.99 431.15,312.10 432.57,312.21 433.98,312.31 435.35,312.42 436.71,312.52 438.04,312.62 439.36,312.72 440.65,312.81 441.92,312.91 443.17,313.00 444.40,313.09 445.62,313.19 446.82,313.28 448.00,313.36 449.16,313.45 450.31,313.54 451.44,313.62 452.55,313.71 453.66,313.79 454.74,313.87 455.81,313.95 456.87,314.03 457.92,314.11 458.95,314.19 459.97,314.26 460.97,314.34 461.97,314.41 462.95,314.49 463.92,314.56 464.88,314.62 465.83,314.69 466.77,314.76 467.69,314.82 468.61,314.89 469.51,314.95 470.41,315.02"/>
<g fill="#ff80ff" stroke="#ff00ff" stroke-width="1.6"><rect x="95.40" y="155.69" width="8.3" height="8.30"/><rect x="152.25" y="229.46" width="8.3" height="8.30"/><rect x="185.50" y="249.59" width="8.3" height="8.30"/><rect x="209.10" y="255.06" width="8.3" height="8.30"/><rect x="227.40" y="271.59" width="8.3" height="8.30"/><rect x="242.35" y="276.84" width="8.3" height="8.30"/><rect x="255.00" y="279.37" width="8.3" height="8.30"/><rect x="265.95" y="282.59" width="8.3" height="8.30"/><rect x="275.61" y="285.35" width="8.3" height="8.30"/><rect x="284.25" y="288.40" width="8.3" height="8.30"/><rect x="292.07" y="291.16" width="8.3" height="8.30"/><rect x="299.20" y="291.89" width="8.3" height="8.30"/><rect x="305.77" y="293.02" width="8.3" height="8.30"/><rect x="311.85" y="294.26" width="8.3" height="8.30"/><rect x="317.50" y="295.17" width="8.3" height="8.30"/><rect x="322.80" y="296.01" width="8.3" height="8.30"/><rect x="327.77" y="297.25" width="8.3" height="8.30"/><rect x="332.46" y="298.49" width="8.3" height="8.30"/><rect x="336.89" y="299.25" width="8.3" height="8.30"/><rect x="341.10" y="299.96" width="8.3" height="8.30"/><rect x="345.10" y="300.46" width="8.3" height="8.30"/><rect x="348.92" y="300.95" width="8.3" height="8.30"/><rect x="352.56" y="301.41" width="8.3" height="8.30"/><rect x="356.05" y="301.85" width="8.3" height="8.30"/><rect x="359.40" y="302.27" width="8.3" height="8.30"/><rect x="362.62" y="302.57" width="8.3" height="8.30"/><rect x="365.71" y="302.87" width="8.3" height="8.30"/><rect x="368.70" y="303.15" width="8.3" height="8.30"/><rect x="371.57" y="303.42" width="8.3" height="8.30"/><rect x="374.35" y="303.68" width="8.3" height="8.30"/><rect x="377.04" y="303.92" width="8.3" height="8.30"/><rect x="379.65" y="304.15" width="8.3" height="8.30"/><rect x="382.17" y="304.37" width="8.3" height="8.30"/><rect x="384.62" y="304.59" width="8.3" height="8.30"/><rect x="387.00" y="304.80" width="8.3" height="8.30"/><rect x="389.31" y="305.00" width="8.3" height="8.30"/><rect x="391.55" y="305.20" width="8.3" height="8.30"/><rect x="393.74" y="305.40" width="8.3" height="8.30"/><rect x="395.87" y="305.58" width="8.3" height="8.30"/><rect x="397.95" y="305.77" width="8.3" height="8.30"/><rect x="399.97" y="305.92" width="8.3" height="8.30"/><rect x="401.95" y="306.07" width="8.3" height="8.30"/><rect x="403.88" y="306.21" width="8.3" height="8.30"/><rect x="405.77" y="306.36" width="8.3" height="8.30"/><rect x="407.61" y="306.49" width="8.3" height="8.30"/><rect x="409.41" y="306.63" width="8.3" height="8.30"/><rect x="411.18" y="306.76" width="8.3" height="8.30"/><rect x="412.90" y="306.89" width="8.3" height="8.30"/><rect x="414.59" y="307.02" width="8.3" height="8.30"/><rect x="416.25" y="307.14" width="8.3" height="8.30"/><rect x="417.87" y="307.26" width="8.3" height="8.30"/><rect x="419.47" y="307.38" width="8.3" height="8.30" fill="#ff00ff"/><rect x="421.03" y="307.50" width="8.3" height="8.30" fill="#ff00ff"/><rect x="422.56" y="307.62" width="8.3" height="8.30" fill="#ff00ff"/><rect x="424.07" y="307.73" width="8.3" height="8.30" fill="#ff00ff"/><rect x="425.55" y="307.84" width="8.3" height="8.30" fill="#ff00ff"/><rect x="427.00" y="307.95" width="8.3" height="8.30" fill="#ff00ff"/><rect x="428.42" y="308.06" width="8.3" height="8.30" fill="#ff00ff"/><rect x="429.83" y="308.16" width="8.3" height="8.30" fill="#ff00ff"/><rect x="431.20" y="308.27" width="8.3" height="8.30" fill="#ff00ff"/><rect x="432.56" y="308.37" width="8.3" height="8.30" fill="#ff00ff"/><rect x="433.89" y="308.47" width="8.3" height="8.30" fill="#ff00ff"/><rect x="435.21" y="308.57" width="8.3" height="8.30" fill="#ff00ff"/><rect x="436.50" y="308.66" width="8.3" height="8.30" fill="#ff00ff"/><rect x="437.77" y="308.76" width="8.3" height="8.30" fill="#ff00ff"/><rect x="439.02" y="308.85" width="8.3" height="8.30" fill="#ff00ff"/><rect x="440.25" y="308.94" width="8.3" height="8.30" fill="#ff00ff"/><rect x="441.47" y="309.04" width="8.3" height="8.30" fill="#ff00ff"/><rect x="442.67" y="309.13" width="8.3" height="8.30" fill="#ff00ff"/><rect x="443.85" y="309.21" width="8.3" height="8.30" fill="#ff00ff"/><rect x="445.01" y="309.30" width="8.3" height="8.30" fill="#ff00ff"/><rect x="446.16" y="309.39" width="8.3" height="8.30" fill="#ff00ff"/><rect x="447.29" y="309.47" width="8.3" height="8.30" fill="#ff00ff"/><rect x="448.40" y="309.56" width="8.3" height="8.30" fill="#ff00ff"/><rect x="449.51" y="309.64" width="8.3" height="8.30" fill="#ff00ff"/><rect x="450.59" y="309.72" width="8.3" height="8.30" fill="#ff00ff"/><rect x="451.66" y="309.80" width="8.3" height="8.30" fill="#ff00ff"/><rect x="452.72" y="309.88" width="8.3" height="8.30" fill="#ff00ff"/><rect x="453.77" y="309.96" width="8.3" height="8.30" fill="#ff00ff"/><rect x="454.80" y="310.04" width="8.3" height="8.30" fill="#ff00ff"/><rect x="455.82" y="310.11" width="8.3" height="8.30" fill="#ff00ff"/><rect x="456.82" y="310.19" width="8.3" height="8.30" fill="#ff00ff"/><rect x="457.82" y="310.26" width="8.3" height="8.30" fill="#ff00ff"/><rect x="458.80" y="310.34" width="8.3" height="8.30" fill="#ff00ff"/><rect x="459.77" y="310.41" width="8.3" height="8.30" fill="#ff00ff"/><rect x="460.73" y="310.47" width="8.3" height="8.30" fill="#ff00ff"/><rect x="461.68" y="310.54" width="8.3" height="8.30" fill="#ff00ff"/><rect x="462.62" y="310.61" width="8.3" height="8.30" fill="#ff00ff"/><rect x="463.54" y="310.67" width="8.3" height="8.30" fill="#ff00ff"/><rect x="464.46" y="310.74" width="8.3" height="8.30" fill="#ff00ff"/><rect x="465.36" y="310.80" width="8.3" height="8.30" fill="#ff00ff"/><rect x="466.26" y="310.87" width="8.3" height="8.30" fill="#ff00ff"/></g>
<polyline fill="none" stroke="#0000ff" stroke-width="1.7" stroke-linejoin="round" points="99.55,505.18 156.40,506.99 189.65,509.59 213.25,509.59 231.55,509.67 246.50,510.78 259.15,511.25 270.10,511.56 279.76,511.81 288.40,512.04 296.22,512.30 303.35,512.53 309.92,512.75 316.00,512.95 321.65,513.14 326.95,513.22 331.92,513.30 336.61,513.38 341.04,513.28 345.25,513.19 349.25,513.11 353.07,513.02 356.71,512.95 360.20,512.87 363.55,512.80 366.77,512.73 369.86,512.67 372.85,512.84 375.72,513.01 378.50,513.17 381.19,513.33 383.80,513.48 386.32,513.63 388.77,513.78 391.15,513.92 393.46,514.05 395.70,514.18 397.89,514.31 400.02,514.44 402.10,514.56 404.12,514.56 406.10,514.56 408.03,514.56 409.92,514.56 411.76,514.56 413.56,514.56 415.33,514.56 417.05,514.56 418.74,514.56 420.40,514.56 422.02,514.58 423.62,514.61 425.18,514.63 426.71,514.65 428.22,514.67 429.70,514.70 431.15,514.72 432.57,514.74 433.98,514.76 435.35,514.78 436.71,514.80 438.04,514.82 439.36,514.84 440.65,514.86 441.92,514.88 443.17,514.89 444.40,514.91 445.62,514.93 446.82,514.95 448.00,514.97 449.16,514.98 450.31,515.00 451.44,515.02 452.55,515.03 453.66,515.05 454.74,515.07 455.81,515.08 456.87,515.10 457.92,515.11 458.95,515.13 459.97,515.14 460.97,515.16 461.97,515.17 462.95,515.19 463.92,515.19 464.88,515.20 465.83,515.20 466.77,515.21 467.69,515.21 468.61,515.22 469.51,515.22 470.41,515.23"/>
<g fill="#80ffff" stroke="#0000ff" stroke-width="1.7"><path d="M99.55,499.11L105.00,508.21L94.10,508.21Z"/><path d="M156.40,500.93L161.85,510.03L150.95,510.03Z"/><path d="M189.65,503.53L195.10,512.63L184.20,512.63Z"/><path d="M213.25,503.53L218.70,512.63L207.80,512.63Z"/><path d="M231.55,503.61L237.00,512.71L226.10,512.71Z"/><path d="M246.50,504.71L251.95,513.81L241.05,513.81Z"/><path d="M259.15,505.18L264.60,514.28L253.70,514.28Z"/><path d="M270.10,505.50L275.55,514.60L264.65,514.60Z"/><path d="M279.76,505.75L285.21,514.85L274.31,514.85Z"/><path d="M288.40,505.97L293.85,515.07L282.95,515.07Z"/><path d="M296.22,506.23L301.67,515.33L290.77,515.33Z"/><path d="M303.35,506.47L308.80,515.57L297.90,515.57Z"/><path d="M309.92,506.68L315.37,515.78L304.47,515.78Z"/><path d="M316.00,506.88L321.45,515.98L310.55,515.98Z"/><path d="M321.65,507.07L327.10,516.17L316.20,516.17Z"/><path d="M326.95,507.16L332.40,516.26L321.50,516.26Z"/><path d="M331.92,507.23L337.37,516.33L326.47,516.33Z"/><path d="M336.61,507.31L342.06,516.41L331.16,516.41Z"/><path d="M341.04,507.21L346.49,516.31L335.59,516.31Z"/><path d="M345.25,507.12L350.70,516.22L339.80,516.22Z"/><path d="M349.25,507.04L354.70,516.14L343.80,516.14Z"/><path d="M353.07,506.96L358.52,516.06L347.62,516.06Z"/><path d="M356.71,506.88L362.16,515.98L351.26,515.98Z"/><path d="M360.20,506.81L365.65,515.91L354.75,515.91Z"/><path d="M363.55,506.73L369.00,515.83L358.10,515.83Z"/><path d="M366.77,506.67L372.22,515.77L361.32,515.77Z"/><path d="M369.86,506.60L375.31,515.70L364.41,515.70Z"/><path d="M372.85,506.77L378.30,515.87L367.40,515.87Z"/><path d="M375.72,506.94L381.17,516.04L370.27,516.04Z"/><path d="M378.50,507.11L383.95,516.21L373.05,516.21Z"/><path d="M381.19,507.26L386.64,516.36L375.74,516.36Z"/><path d="M383.80,507.42L389.25,516.52L378.35,516.52Z"/><path d="M386.32,507.57L391.77,516.67L380.87,516.67Z"/><path d="M388.77,507.71L394.22,516.81L383.32,516.81Z"/><path d="M391.15,507.85L396.60,516.95L385.70,516.95Z"/><path d="M393.46,507.98L398.91,517.08L388.01,517.08Z"/><path d="M395.70,508.12L401.15,517.22L390.25,517.22Z"/><path d="M397.89,508.24L403.34,517.34L392.44,517.34Z"/><path d="M400.02,508.37L405.47,517.47L394.57,517.47Z"/><path d="M402.10,508.49L407.55,517.59L396.65,517.59Z"/><path d="M404.12,508.49L409.57,517.59L398.67,517.59Z"/><path d="M406.10,508.49L411.55,517.59L400.65,517.59Z"/><path d="M408.03,508.49L413.48,517.59L402.58,517.59Z"/><path d="M409.92,508.49L415.37,517.59L404.47,517.59Z"/><path d="M411.76,508.49L417.21,517.59L406.31,517.59Z"/><path d="M413.56,508.49L419.01,517.59L408.11,517.59Z"/><path d="M415.33,508.49L420.78,517.59L409.88,517.59Z"/><path d="M417.05,508.49L422.50,517.59L411.60,517.59Z"/><path d="M418.74,508.49L424.19,517.59L413.29,517.59Z"/><path d="M420.40,508.49L425.85,517.59L414.95,517.59Z"/><path d="M422.02,508.51L427.47,517.61L416.57,517.61Z"/><path d="M423.62,508.54L429.07,517.64L418.17,517.64Z" fill="#0000ff"/><path d="M425.18,508.56L430.63,517.66L419.73,517.66Z" fill="#0000ff"/><path d="M426.71,508.58L432.16,517.68L421.26,517.68Z" fill="#0000ff"/><path d="M428.22,508.61L433.67,517.71L422.77,517.71Z" fill="#0000ff"/><path d="M429.70,508.63L435.15,517.73L424.25,517.73Z" fill="#0000ff"/><path d="M431.15,508.65L436.60,517.75L425.70,517.75Z" fill="#0000ff"/><path d="M432.57,508.67L438.02,517.77L427.12,517.77Z" fill="#0000ff"/><path d="M433.98,508.69L439.43,517.79L428.53,517.79Z" fill="#0000ff"/><path d="M435.35,508.71L440.80,517.81L429.90,517.81Z" fill="#0000ff"/><path d="M436.71,508.73L442.16,517.83L431.26,517.83Z" fill="#0000ff"/><path d="M438.04,508.75L443.49,517.85L432.59,517.85Z" fill="#0000ff"/><path d="M439.36,508.77L444.81,517.87L433.91,517.87Z" fill="#0000ff"/><path d="M440.65,508.79L446.10,517.89L435.20,517.89Z" fill="#0000ff"/><path d="M441.92,508.81L447.37,517.91L436.47,517.91Z" fill="#0000ff"/><path d="M443.17,508.83L448.62,517.93L437.72,517.93Z" fill="#0000ff"/><path d="M444.40,508.85L449.85,517.95L438.95,517.95Z" fill="#0000ff"/><path d="M445.62,508.86L451.07,517.96L440.17,517.96Z" fill="#0000ff"/><path d="M446.82,508.88L452.27,517.98L441.37,517.98Z" fill="#0000ff"/><path d="M448.00,508.90L453.45,518.00L442.55,518.00Z" fill="#0000ff"/><path d="M449.16,508.92L454.61,518.02L443.71,518.02Z" fill="#0000ff"/><path d="M450.31,508.93L455.76,518.03L444.86,518.03Z" fill="#0000ff"/><path d="M451.44,508.95L456.89,518.05L445.99,518.05Z" fill="#0000ff"/><path d="M452.55,508.97L458.00,518.07L447.10,518.07Z" fill="#0000ff"/><path d="M453.66,508.98L459.11,518.08L448.21,518.08Z" fill="#0000ff"/><path d="M454.74,509.00L460.19,518.10L449.29,518.10Z" fill="#0000ff"/><path d="M455.81,509.02L461.26,518.12L450.36,518.12Z" fill="#0000ff"/><path d="M456.87,509.03L462.32,518.13L451.42,518.13Z" fill="#0000ff"/><path d="M457.92,509.05L463.37,518.15L452.47,518.15Z" fill="#0000ff"/><path d="M458.95,509.06L464.40,518.16L453.50,518.16Z" fill="#0000ff"/><path d="M459.97,509.08L465.42,518.18L454.52,518.18Z" fill="#0000ff"/><path d="M460.97,509.09L466.42,518.19L455.52,518.19Z" fill="#0000ff"/><path d="M461.97,509.11L467.42,518.21L456.52,518.21Z" fill="#0000ff"/><path d="M462.95,509.12L468.40,518.22L457.50,518.22Z" fill="#0000ff"/><path d="M463.92,509.13L469.37,518.23L458.47,518.23Z" fill="#0000ff"/><path d="M464.88,509.13L470.33,518.23L459.43,518.23Z" fill="#0000ff"/><path d="M465.83,509.14L471.28,518.24L460.38,518.24Z" fill="#0000ff"/><path d="M466.77,509.14L472.22,518.24L461.32,518.24Z" fill="#0000ff"/><path d="M467.69,509.15L473.14,518.25L462.24,518.25Z" fill="#0000ff"/><path d="M468.61,509.15L474.06,518.25L463.16,518.25Z" fill="#0000ff"/><path d="M469.51,509.16L474.96,518.26L464.06,518.26Z" fill="#0000ff"/><path d="M470.41,509.16L475.86,518.26L464.96,518.26Z" fill="#0000ff"/></g>
<polyline fill="none" stroke="#808080" stroke-width="1.7" stroke-linejoin="round" points="99.55,436.31 156.40,482.17 189.65,493.83 213.25,497.69 231.55,501.63 246.50,503.68 259.15,504.94 270.10,505.57 279.76,505.97 288.40,506.28 296.22,506.78 303.35,507.23 309.92,507.48 316.00,507.72 321.65,507.94 326.95,508.19 331.92,508.43 336.61,508.65 341.04,508.69 345.25,508.73 349.25,508.77 353.07,508.80 356.71,508.84 360.20,508.87 363.55,508.90 366.77,508.93 369.86,508.96 372.85,509.19 375.72,509.41 378.50,509.62 381.19,509.82 383.80,510.02 386.32,510.21 388.77,510.40 391.15,510.58 393.46,510.75 395.70,510.92 397.89,511.09 400.02,511.25 402.10,511.41 404.12,511.44 406.10,511.47 408.03,511.50 409.92,511.53 411.76,511.56 413.56,511.58 415.33,511.61 417.05,511.64 418.74,511.66 420.40,511.69 422.02,511.72 423.62,511.74 425.18,511.76 426.71,511.79 428.22,511.81 429.70,511.83 431.15,511.86 432.57,511.88 433.98,511.90 435.35,511.92 436.71,511.94 438.04,511.96 439.36,511.98 440.65,512.00 441.92,512.02 443.17,512.04 444.40,512.06 445.62,512.08 446.82,512.10 448.00,512.12 449.16,512.14 450.31,512.15 451.44,512.17 452.55,512.19 453.66,512.21 454.74,512.22 455.81,512.24 456.87,512.26 457.92,512.27 458.95,512.29 459.97,512.30 460.97,512.32 461.97,512.34 462.95,512.35 463.92,512.37 464.88,512.38 465.83,512.40 466.77,512.41 467.69,512.43 468.61,512.44 469.51,512.46 470.41,512.47"/>
<g fill="#c0c0c0" stroke="#808080" stroke-width="1.7"><circle cx="99.55" cy="436.31" r="4.45"/><circle cx="156.40" cy="482.17" r="4.45"/><circle cx="189.65" cy="493.83" r="4.45"/><circle cx="213.25" cy="497.69" r="4.45"/><circle cx="231.55" cy="501.63" r="4.45"/><circle cx="246.50" cy="503.68" r="4.45"/><circle cx="259.15" cy="504.94" r="4.45"/><circle cx="270.10" cy="505.57" r="4.45"/><circle cx="279.76" cy="505.97" r="4.45"/><circle cx="288.40" cy="506.28" r="4.45"/><circle cx="296.22" cy="506.78" r="4.45"/><circle cx="303.35" cy="507.23" r="4.45"/><circle cx="309.92" cy="507.48" r="4.45"/><circle cx="316.00" cy="507.72" r="4.45"/><circle cx="321.65" cy="507.94" r="4.45"/><circle cx="326.95" cy="508.19" r="4.45"/><circle cx="331.92" cy="508.43" r="4.45"/><circle cx="336.61" cy="508.65" r="4.45"/><circle cx="341.04" cy="508.69" r="4.45"/><circle cx="345.25" cy="508.73" r="4.45"/><circle cx="349.25" cy="508.77" r="4.45"/><circle cx="353.07" cy="508.80" r="4.45"/><circle cx="356.71" cy="508.84" r="4.45"/><circle cx="360.20" cy="508.87" r="4.45"/><circle cx="363.55" cy="508.90" r="4.45"/><circle cx="366.77" cy="508.93" r="4.45"/><circle cx="369.86" cy="508.96" r="4.45"/><circle cx="372.85" cy="509.19" r="4.45"/><circle cx="375.72" cy="509.41" r="4.45"/><circle cx="378.50" cy="509.62" r="4.45"/><circle cx="381.19" cy="509.82" r="4.45"/><circle cx="383.80" cy="510.02" r="4.45"/><circle cx="386.32" cy="510.21" r="4.45"/><circle cx="388.77" cy="510.40" r="4.45"/><circle cx="391.15" cy="510.58" r="4.45"/><circle cx="393.46" cy="510.75" r="4.45"/><circle cx="395.70" cy="510.92" r="4.45"/><circle cx="397.89" cy="511.09" r="4.45"/><circle cx="400.02" cy="511.25" r="4.45"/><circle cx="402.10" cy="511.41" r="4.45"/><circle cx="404.12" cy="511.44" r="4.45"/><circle cx="406.10" cy="511.47" r="4.45"/><circle cx="408.03" cy="511.50" r="4.45"/><circle cx="409.92" cy="511.53" r="4.45"/><circle cx="411.76" cy="511.56" r="4.45"/><circle cx="413.56" cy="511.58" r="4.45"/><circle cx="415.33" cy="511.61" r="4.45"/><circle cx="417.05" cy="511.64" r="4.45"/><circle cx="418.74" cy="511.66" r="4.45"/><circle cx="420.40" cy="511.69" r="4.45"/><circle cx="422.02" cy="511.72" r="4.45"/><circle cx="423.62" cy="511.74" r="4.45" fill="#808080"/><circle cx="425.18" cy="511.76" r="4.45" fill="#808080"/><circle cx="426.71" cy="511.79" r="4.45" fill="#808080"/><circle cx="428.22" cy="511.81" r="4.45" fill="#808080"/><circle cx="429.70" cy="511.83" r="4.45" fill="#808080"/><circle cx="431.15" cy="511.86" r="4.45" fill="#808080"/><circle cx="432.57" cy="511.88" r="4.45" fill="#808080"/><circle cx="433.98" cy="511.90" r="4.45" fill="#808080"/><circle cx="435.35" cy="511.92" r="4.45" fill="#808080"/><circle cx="436.71" cy="511.94" r="4.45" fill="#808080"/><circle cx="438.04" cy="511.96" r="4.45" fill="#808080"/><circle cx="439.36" cy="511.98" r="4.45" fill="#808080"/><circle cx="440.65" cy="512.00" r="4.45" fill="#808080"/><circle cx="441.92" cy="512.02" r="4.45" fill="#808080"/><circle cx="443.17" cy="512.04" r="4.45" fill="#808080"/><circle cx="444.40" cy="512.06" r="4.45" fill="#808080"/><circle cx="445.62" cy="512.08" r="4.45" fill="#808080"/><circle cx="446.82" cy="512.10" r="4.45" fill="#808080"/><circle cx="448.00" cy="512.12" r="4.45" fill="#808080"/><circle cx="449.16" cy="512.14" r="4.45" fill="#808080"/><circle cx="450.31" cy="512.15" r="4.45" fill="#808080"/><circle cx="451.44" cy="512.17" r="4.45" fill="#808080"/><circle cx="452.55" cy="512.19" r="4.45" fill="#808080"/><circle cx="453.66" cy="512.21" r="4.45" fill="#808080"/><circle cx="454.74" cy="512.22" r="4.45" fill="#808080"/><circle cx="455.81" cy="512.24" r="4.45" fill="#808080"/><circle cx="456.87" cy="512.26" r="4.45" fill="#808080"/><circle cx="457.92" cy="512.27" r="4.45" fill="#808080"/><circle cx="458.95" cy="512.29" r="4.45" fill="#808080"/><circle cx="459.97" cy="512.30" r="4.45" fill="#808080"/><circle cx="460.97" cy="512.32" r="4.45" fill="#808080"/><circle cx="461.97" cy="512.34" r="4.45" fill="#808080"/><circle cx="462.95" cy="512.35" r="4.45" fill="#808080"/><circle cx="463.92" cy="512.37" r="4.45" fill="#808080"/><circle cx="464.88" cy="512.38" r="4.45" fill="#808080"/><circle cx="465.83" cy="512.40" r="4.45" fill="#808080"/><circle cx="466.77" cy="512.41" r="4.45" fill="#808080"/><circle cx="467.69" cy="512.43" r="4.45" fill="#808080"/><circle cx="468.61" cy="512.44" r="4.45" fill="#808080"/><circle cx="469.51" cy="512.46" r="4.45" fill="#808080"/><circle cx="470.41" cy="512.47" r="4.45" fill="#808080"/></g>
<polyline fill="none" stroke="#ff00ff" stroke-width="1.7" stroke-linejoin="round" points="99.55,356.05 156.40,451.12 189.65,475.71 213.25,482.88 231.55,494.31 246.50,495.72 259.15,497.85 270.10,499.43 279.76,500.22 288.40,501.00 296.22,501.48 303.35,502.34 309.92,502.85 316.00,503.32 321.65,503.76 326.95,504.18 331.92,504.57 336.61,504.94 341.04,505.11 345.25,505.27 349.25,505.42 353.07,505.57 356.71,505.71 360.20,505.84 363.55,505.97 366.77,506.09 369.86,506.20 372.85,506.38 375.72,506.55 378.50,506.71 381.19,506.87 383.80,507.02 386.32,507.17 388.77,507.31 391.15,507.45 393.46,507.59 395.70,507.72 397.89,507.85 400.02,507.97 402.10,508.10 404.12,508.17 406.10,508.24 408.03,508.31 409.92,508.38 411.76,508.45 413.56,508.51 415.33,508.58 417.05,508.64 418.74,508.70 420.40,508.76 422.02,508.82 423.62,508.88 425.18,508.93 426.71,508.99 428.22,509.04 429.70,509.10 431.15,509.15 432.57,509.20 433.98,509.25 435.35,509.30 436.71,509.35 438.04,509.40 439.36,509.45 440.65,509.49 441.92,509.54 443.17,509.59 444.40,509.63 445.62,509.67 446.82,509.72 448.00,509.76 449.16,509.80 450.31,509.84 451.44,509.89 452.55,509.93 453.66,509.97 454.74,510.00 455.81,510.04 456.87,510.08 457.92,510.12 458.95,510.16 459.97,510.19 460.97,510.23 461.97,510.27 462.95,510.30 463.92,510.33 464.88,510.36 465.83,510.38 466.77,510.41 467.69,510.43 468.61,510.46 469.51,510.48 470.41,510.51"/>
<g fill="#ff80ff" stroke="#ff00ff" stroke-width="1.6"><rect x="95.40" y="351.90" width="8.3" height="8.30"/><rect x="152.25" y="446.97" width="8.3" height="8.30"/><rect x="185.50" y="471.56" width="8.3" height="8.30"/><rect x="209.10" y="478.73" width="8.3" height="8.30"/><rect x="227.40" y="490.16" width="8.3" height="8.30"/><rect x="242.35" y="491.57" width="8.3" height="8.30"/><rect x="255.00" y="493.70" width="8.3" height="8.30"/><rect x="265.95" y="495.28" width="8.3" height="8.30"/><rect x="275.61" y="496.07" width="8.3" height="8.30"/><rect x="284.25" y="496.85" width="8.3" height="8.30"/><rect x="292.07" y="497.33" width="8.3" height="8.30"/><rect x="299.20" y="498.19" width="8.3" height="8.30"/><rect x="305.77" y="498.70" width="8.3" height="8.30"/><rect x="311.85" y="499.17" width="8.3" height="8.30"/><rect x="317.50" y="499.61" width="8.3" height="8.30"/><rect x="322.80" y="500.03" width="8.3" height="8.30"/><rect x="327.77" y="500.42" width="8.3" height="8.30"/><rect x="332.46" y="500.79" width="8.3" height="8.30"/><rect x="336.89" y="500.96" width="8.3" height="8.30"/><rect x="341.10" y="501.12" width="8.3" height="8.30"/><rect x="345.10" y="501.27" width="8.3" height="8.30"/><rect x="348.92" y="501.42" width="8.3" height="8.30"/><rect x="352.56" y="501.56" width="8.3" height="8.30"/><rect x="356.05" y="501.69" width="8.3" height="8.30"/><rect x="359.40" y="501.82" width="8.3" height="8.30"/><rect x="362.62" y="501.94" width="8.3" height="8.30"/><rect x="365.71" y="502.05" width="8.3" height="8.30"/><rect x="368.70" y="502.23" width="8.3" height="8.30"/><rect x="371.57" y="502.40" width="8.3" height="8.30"/><rect x="374.35" y="502.56" width="8.3" height="8.30"/><rect x="377.04" y="502.72" width="8.3" height="8.30"/><rect x="379.65" y="502.87" width="8.3" height="8.30"/><rect x="382.17" y="503.02" width="8.3" height="8.30"/><rect x="384.62" y="503.16" width="8.3" height="8.30"/><rect x="387.00" y="503.30" width="8.3" height="8.30"/><rect x="389.31" y="503.44" width="8.3" height="8.30"/><rect x="391.55" y="503.57" width="8.3" height="8.30"/><rect x="393.74" y="503.70" width="8.3" height="8.30"/><rect x="395.87" y="503.82" width="8.3" height="8.30"/><rect x="397.95" y="503.95" width="8.3" height="8.30"/><rect x="399.97" y="504.02" width="8.3" height="8.30"/><rect x="401.95" y="504.09" width="8.3" height="8.30"/><rect x="403.88" y="504.16" width="8.3" height="8.30"/><rect x="405.77" y="504.23" width="8.3" height="8.30"/><rect x="407.61" y="504.30" width="8.3" height="8.30"/><rect x="409.41" y="504.36" width="8.3" height="8.30"/><rect x="411.18" y="504.43" width="8.3" height="8.30"/><rect x="412.90" y="504.49" width="8.3" height="8.30"/><rect x="414.59" y="504.55" width="8.3" height="8.30"/><rect x="416.25" y="504.61" width="8.3" height="8.30"/><rect x="417.87" y="504.67" width="8.3" height="8.30"/><rect x="419.47" y="504.73" width="8.3" height="8.30" fill="#ff00ff"/><rect x="421.03" y="504.78" width="8.3" height="8.30" fill="#ff00ff"/><rect x="422.56" y="504.84" width="8.3" height="8.30" fill="#ff00ff"/><rect x="424.07" y="504.89" width="8.3" height="8.30" fill="#ff00ff"/><rect x="425.55" y="504.95" width="8.3" height="8.30" fill="#ff00ff"/><rect x="427.00" y="505.00" width="8.3" height="8.30" fill="#ff00ff"/><rect x="428.42" y="505.05" width="8.3" height="8.30" fill="#ff00ff"/><rect x="429.83" y="505.10" width="8.3" height="8.30" fill="#ff00ff"/><rect x="431.20" y="505.15" width="8.3" height="8.30" fill="#ff00ff"/><rect x="432.56" y="505.20" width="8.3" height="8.30" fill="#ff00ff"/><rect x="433.89" y="505.25" width="8.3" height="8.30" fill="#ff00ff"/><rect x="435.21" y="505.30" width="8.3" height="8.30" fill="#ff00ff"/><rect x="436.50" y="505.34" width="8.3" height="8.30" fill="#ff00ff"/><rect x="437.77" y="505.39" width="8.3" height="8.30" fill="#ff00ff"/><rect x="439.02" y="505.44" width="8.3" height="8.30" fill="#ff00ff"/><rect x="440.25" y="505.48" width="8.3" height="8.30" fill="#ff00ff"/><rect x="441.47" y="505.52" width="8.3" height="8.30" fill="#ff00ff"/><rect x="442.67" y="505.57" width="8.3" height="8.30" fill="#ff00ff"/><rect x="443.85" y="505.61" width="8.3" height="8.30" fill="#ff00ff"/><rect x="445.01" y="505.65" width="8.3" height="8.30" fill="#ff00ff"/><rect x="446.16" y="505.69" width="8.3" height="8.30" fill="#ff00ff"/><rect x="447.29" y="505.74" width="8.3" height="8.30" fill="#ff00ff"/><rect x="448.40" y="505.78" width="8.3" height="8.30" fill="#ff00ff"/><rect x="449.51" y="505.82" width="8.3" height="8.30" fill="#ff00ff"/><rect x="450.59" y="505.85" width="8.3" height="8.30" fill="#ff00ff"/><rect x="451.66" y="505.89" width="8.3" height="8.30" fill="#ff00ff"/><rect x="452.72" y="505.93" width="8.3" height="8.30" fill="#ff00ff"/><rect x="453.77" y="505.97" width="8.3" height="8.30" fill="#ff00ff"/><rect x="454.80" y="506.01" width="8.3" height="8.30" fill="#ff00ff"/><rect x="455.82" y="506.04" width="8.3" height="8.30" fill="#ff00ff"/><rect x="456.82" y="506.08" width="8.3" height="8.30" fill="#ff00ff"/><rect x="457.82" y="506.12" width="8.3" height="8.30" fill="#ff00ff"/><rect x="458.80" y="506.15" width="8.3" height="8.30" fill="#ff00ff"/><rect x="459.77" y="506.18" width="8.3" height="8.30" fill="#ff00ff"/><rect x="460.73" y="506.21" width="8.3" height="8.30" fill="#ff00ff"/><rect x="461.68" y="506.23" width="8.3" height="8.30" fill="#ff00ff"/><rect x="462.62" y="506.26" width="8.3" height="8.30" fill="#ff00ff"/><rect x="463.54" y="506.28" width="8.3" height="8.30" fill="#ff00ff"/><rect x="464.46" y="506.31" width="8.3" height="8.30" fill="#ff00ff"/><rect x="465.36" y="506.33" width="8.3" height="8.30" fill="#ff00ff"/><rect x="466.26" y="506.36" width="8.3" height="8.30" fill="#ff00ff"/></g>
<g font-family="Liberation Sans, sans-serif" font-size="20px" fill="#000" stroke="#000" stroke-width="0.25">
<text transform="translate(83.50,143.60) scale(1,1.035)" text-anchor="end">0</text>
<path transform="translate(72.38,89.50) scale(0.009766,-0.009766)" stroke-width="25" d="M763,0L583,0L583,1147Q518,1085 412.5,1023Q307,961 223,930L223,1104Q374,1175 487,1276Q600,1377 647,1472L763,1472Z"/>
<text transform="translate(83.50,35.40) scale(1,1.035)" text-anchor="end">2</text>
<text transform="translate(83.50,-18.70) scale(1,1.035)" text-anchor="end">3</text>
<text transform="translate(83.50,332.55) scale(1,1.035)" text-anchor="end">0</text>
<path transform="translate(72.38,276.00) scale(0.009766,-0.009766)" stroke-width="25" d="M763,0L583,0L583,1147Q518,1085 412.5,1023Q307,961 223,930L223,1104Q374,1175 487,1276Q600,1377 647,1472L763,1472Z"/>
<text transform="translate(83.50,219.45) scale(1,1.035)" text-anchor="end">2</text>
<text transform="translate(83.50,162.90) scale(1,1.035)" text-anchor="end">3</text>
<text transform="translate(83.50,520.80) scale(1,1.035)" text-anchor="end">0</text>
<path transform="translate(72.38,441.70) scale(0.009766,-0.009766)" stroke-width="25" d="M763,0L583,0L583,1147Q518,1085 412.5,1023Q307,961 223,930L223,1104Q374,1175 487,1276Q600,1377 647,1472L763,1472Z"/>
<text transform="translate(83.50,362.60) scale(1,1.035)" text-anchor="end">2</text>
<path transform="translate(93.99,554.30) scale(0.009766,-0.009766)" stroke-width="25" d="M763,0L583,0L583,1147Q518,1085 412.5,1023Q307,961 223,930L223,1104Q374,1175 487,1276Q600,1377 647,1472L763,1472Z"/>
<path transform="translate(277.28,554.30) scale(0.009766,-0.009766)" stroke-width="25" d="M763,0L583,0L583,1147Q518,1085 412.5,1023Q307,961 223,930L223,1104Q374,1175 487,1276Q600,1377 647,1472L763,1472Z"/>
<text transform="translate(288.40,554.30) scale(1,1.035)" text-anchor="start">0</text>
</g>
<g font-family="Liberation Sans, sans-serif" font-style="italic" fill="#000">
<text transform="translate(411.6,569.6) scale(0.978,1.038)" font-size="26.4px" text-anchor="middle">N</text>
<text transform="translate(45.9,238.35) rotate(-90)" font-size="24.5px" text-anchor="middle">Eigenvalue</text>
</g>
</svg>
</body></html>
